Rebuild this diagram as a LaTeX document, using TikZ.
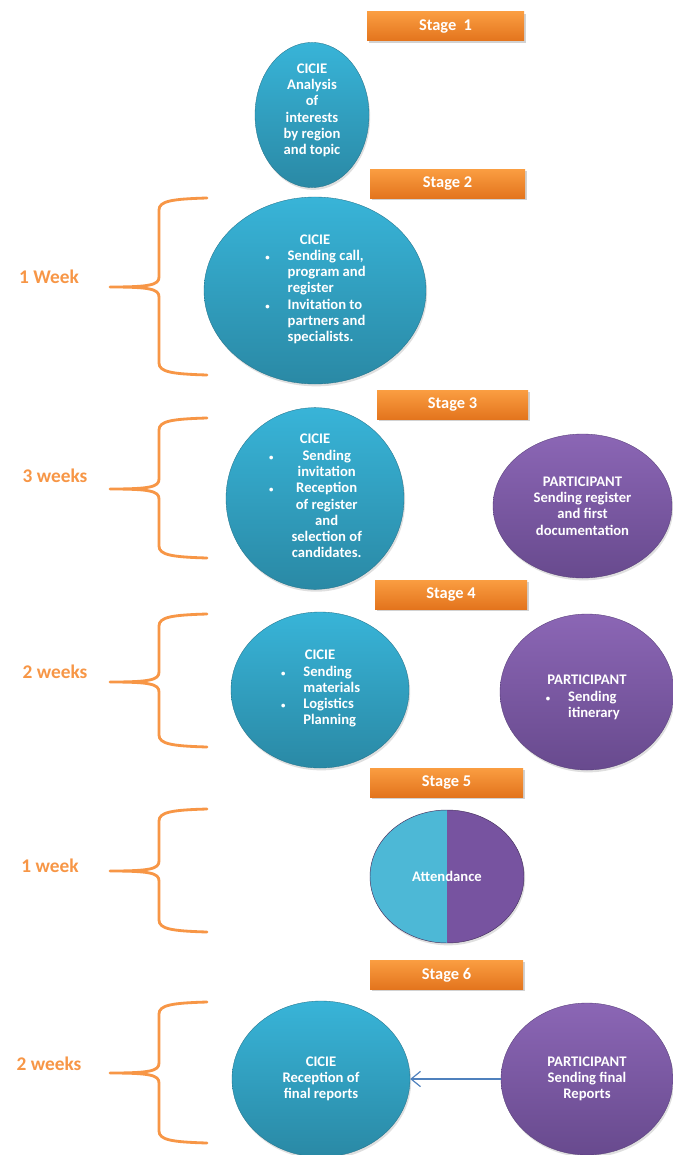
\documentclass[tikz,border=0pt]{standalone}
\usepackage{fontspec}
\setmainfont{Carlito}
\usetikzlibrary{shapes.geometric,arrows.meta,shadows}
\definecolor{StOrangeTop}{HTML}{FA9D41}
\definecolor{StOrangeBot}{HTML}{E3741D}
\definecolor{BrOrange}{HTML}{F79646}
\definecolor{CiTealTop}{HTML}{38B4D8}
\definecolor{CiTealBot}{HTML}{2A89A5}
\definecolor{PaPurpleTop}{HTML}{8B66B5}
\definecolor{PaPurpleBot}{HTML}{684A8E}
\definecolor{AtBlue}{HTML}{4DB8D6}
\definecolor{AtPurple}{HTML}{7753A0}
\definecolor{ArBlue}{HTML}{4F81BD}

\newcommand{\itm}{\makebox[20pt][l]{\hspace{1pt}\scalebox{.6}{\textbullet}}}
% top, tip, bottom of a week brace
\newcommand{\weekbrace}[3]{%
\draw[brace] (207,#1) .. controls (172,#1+1) and (159,#1+3) .. (159,#1+12)
  -- (159,#2-10) .. controls (159,#2-2) and (150,#2) .. (110,#2)
  .. controls (150,#2) and (159,#2+2) .. (159,#2+10)
  -- (159,#3-12) .. controls (159,#3-3) and (172,#3-1) .. (207,#3);}

\begin{document}
\begin{tikzpicture}[x=0.03cm,y=-0.03cm,
  stagebox/.style={rectangle,inner sep=0pt,minimum width=153*0.03cm,minimum height=29*0.03cm,
    top color=StOrangeTop,bottom color=StOrangeBot,text=white,
    font=\bfseries\fontsize{14}{16}\selectfont,
    drop shadow={opacity=.35,shadow xshift=1.5pt,shadow yshift=-1.5pt}},
  ovalsize/.style 2 args={minimum width=#1*0.03cm,minimum height=#2*0.03cm},
  phase/.style={ellipse,inner sep=0pt,align=center,text=white,
    font=\bfseries\fontsize{12.5}{13.9}\selectfont,
    drop shadow={opacity=.25,shadow xshift=1pt,shadow yshift=-2pt}},
  cicie/.style={phase,top color=CiTealTop,bottom color=CiTealBot,draw=CiTealBot!85!black,line width=.3pt},
  participant/.style={phase,top color=PaPurpleTop,bottom color=PaPurpleBot,draw=PaPurpleBot!85!black,line width=.3pt},
  weeklabel/.style={text=BrOrange,font=\bfseries\fontsize{16.5}{19}\selectfont},
  brace/.style={BrOrange,line width=2.4pt,line cap=round,line join=round},
  sendarrow/.style={ArBlue,line width=1pt,-{Straight Barb[length=8pt,width=13pt]}}]
\useasboundingbox (0,0) rectangle (672,1155);
\fill[white] (0,0) rectangle (672,1155);

% stage headers
\node[stagebox,minimum width=157*0.03cm] (stage1) at (445.5,26.5) {Stage\ \ 1};
\node[stagebox,minimum width=155*0.03cm] (stage2) at (447.5,184) {Stage 2};
\node[stagebox,minimum width=151*0.03cm] (stage3) at (452.5,405) {Stage 3};
\node[stagebox,minimum width=152*0.03cm] (stage4) at (451,594.5) {Stage 4};
\node[stagebox] (stage5) at (446.5,782.5) {Stage 5};
\node[stagebox] (stage6) at (446.5,975) {Stage 6};

% durations
\weekbrace{198}{287}{375}
\weekbrace{418}{489}{558}
\weekbrace{614}{682}{747}
\weekbrace{809}{871}{932}
\weekbrace{1002}{1073}{1143}
\node[weeklabel] (week2) at (49,277) {1 Week};
\node[weeklabel] (week3) at (55,476) {3 weeks};
\node[weeklabel] (week4) at (55,672) {2 weeks};
\node[weeklabel] (week5) at (50,866) {1 week};
\node[weeklabel] (week6) at (49,1064) {2 weeks};

% stage 1
\node[cicie,ovalsize={114}{124}] (cicie1) at (312,115)
  {CICIE\\Analysis\\of\\interests\\by region\\and topic\\[-4pt]};
% stage 2
\node[cicie,ovalsize={222}{187}] (cicie2) at (315,290.5)
  {CICIE\\\begin{tabular}[t]{@{}l@{}l@{}}
   \itm & Sending call,\\ & program and\\ & register\\
   \itm & Invitation to\\ & partners and\\ & specialists.\end{tabular}};
% stage 3
\node[cicie,ovalsize={178}{157}] (cicie3) at (315,498.5)
  {CICIE\\\begin{tabular}[t]{@{}l@{}c@{}}
   \itm & Sending\\ & invitation\\
   \itm & Reception\\ & of register\\ & and\\ & selection of\\ & candidates.\end{tabular}};
\node[participant,ovalsize={179}{144}] (part3) at (582.5,506)
  {PARTICIPANT\\Sending register\\and first\\documentation};
% stage 4
\node[cicie,ovalsize={178}{156}] (cicie4) at (320,690)
  {CICIE\\\begin{tabular}[t]{@{}l@{}l@{}}
   \itm & Sending\\ & materials\\
   \itm & Logistics\\ & Planning\end{tabular}};
\node[participant,ovalsize={174}{156}] (part4) at (587,692)
  {\mbox{}\\[6pt]PARTICIPANT\\\begin{tabular}[t]{@{}l@{}l@{\hspace{8pt}}}
   \itm & Sending\\ & itinerary\end{tabular}};
% stage 5
\node[phase,ovalsize={154}{133},draw=AtPurple!60!black,line width=.4pt,
  path picture={
    \fill[AtBlue] (path picture bounding box.south west) rectangle (path picture bounding box.north);
    \fill[AtPurple] (path picture bounding box.south) rectangle (path picture bounding box.north east);
  }] (attend) at (447,876.5) {Attendance};
% stage 6
\node[cicie,ovalsize={178}{156}] (cicie6) at (321,1079)
  {CICIE\\Reception of\\final reports};
\node[participant,ovalsize={172}{152}] (part6) at (587,1079)
  {PARTICIPANT\\Sending final\\Reports};
\draw[sendarrow] (part6) -- (cicie6);
\end{tikzpicture}
\end{document}
